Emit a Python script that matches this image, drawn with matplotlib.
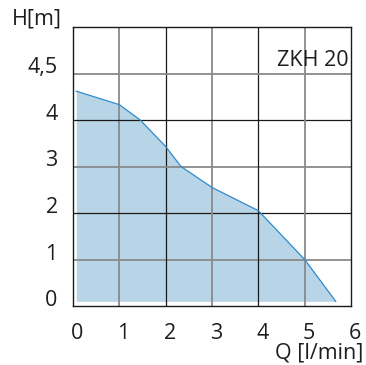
import matplotlib
matplotlib.use("Agg")
import matplotlib.pyplot as plt
import matplotlib.transforms as mtransforms

plt.rcParams['font.family'] = ['Open Sans', 'DejaVu Sans']

# pump curve (H in grid units)
q = [0.07, 1.0, 1.45, 2.0, 2.33, 3.0, 4.0, 5.0, 5.67]
h = [4.62, 4.33, 4.0, 3.43, 3.0, 2.55, 2.05, 1.0, 0.1]
h_base = 0.1

x_ticks = [0, 1, 2, 3, 4, 5, 6]
x_labels = ["0", "1", "2", "3", "4", "5", "6"]
y_ticks = [0, 1, 2, 3, 4, 5]
y_labels = ["0", "1", "2", "3", "4", "4,5"]

fs = 15.5
txt = "#1e1e1e"

fig = plt.figure(figsize=(3.66, 3.65), dpi=100)
ax = fig.add_axes([73 / 366, 59 / 365, 278 / 366, 279 / 365])

# grid: even lines black, odd lines gray
for v in range(1, 6):
    col, lw = ("#8a8a8a", 1.3) if v % 2 else ("#1a1a1a", 0.9)
    ax.axvline(v, color=col, lw=lw, zorder=3)
    ax.axhline(v, color=col, lw=lw, zorder=3)

ax.fill_between(q, h, h_base, color="#b8d5e7", lw=0, zorder=2)
ax.plot(q, h, color="#2f8acb", lw=0.9, zorder=4)

ax.set_xlim(0, 6)
ax.set_ylim(0, 6)
for s in ax.spines.values():
    s.set_color("#1a1a1a")
    s.set_linewidth(1.0)
    s.set_zorder(5)

ax.set_xticks(x_ticks)
ax.set_xticklabels(x_labels)
ax.set_yticks(y_ticks)
ax.set_yticklabels(y_labels)
ax.tick_params(length=0, labelsize=fs, colors=txt)
ax.tick_params(axis='x', pad=12)
ax.tick_params(axis='y', pad=11)
ax.set_xticks([0], minor=True)
ax.set_yticks([0], minor=True)
ax.tick_params(which='minor', length=3, width=1, color="#1a1a1a")

xoff = mtransforms.ScaledTranslation(4 / 100, 0, fig.dpi_scale_trans)
for lab in ax.get_xticklabels():
    lab.set_transform(lab.get_transform() + xoff)
for lab in ax.get_yticklabels():
    lab.set_verticalalignment('baseline')

ax.text(5.94, 5.27, "ZKH 20", ha='right', va='center', fontsize=fs, color=txt)
fig.text(12 / 366, 346 / 365, "H[m]", ha='left', va='center', fontsize=fs, color=txt)
fig.text(363 / 366, 12 / 365, "Q [l/min]", ha='right', va='center', fontsize=fs, color=txt)

fig.savefig("out.png", dpi=100)
